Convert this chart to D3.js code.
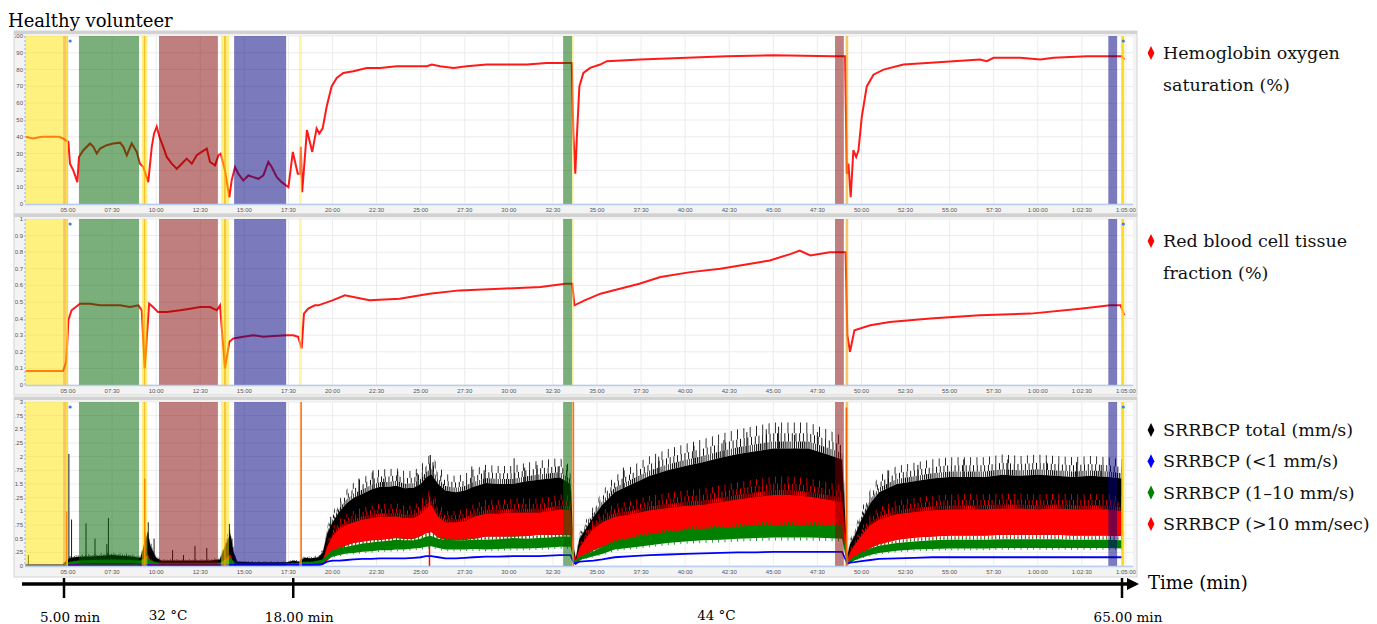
<!DOCTYPE html>
<html><head><meta charset="utf-8">
<script src="https://cdn.jsdelivr.net/npm/d3@7"></script>
<style>
body{margin:0;background:#fff;}
svg{display:block;}
</style></head><body>
<div class="chart"></div>
<script>
// ---- values (time in minutes) ----
const timeTicks = [5, 7.5, 10, 12.5, 15, 17.5, 20, 22.5, 25, 27.5, 30, 32.5, 35, 37.5, 40, 42.5, 45, 47.5, 50, 52.5, 55, 57.5, 60, 62.5, 65];
const timeTickLabels = ["05:00","07:30","10:00","12:30","15:00","17:30","20:00","22:30","25:00","27:30","30:00","32:30","35:00","37:30","40:00","42:30","45:00","47:30","50:00","52:30","55:00","57:30","1:00:00","1:02:30","1:05:00"];
const so2Ticks = [0, 10, 20, 30, 40, 50, 60, 70, 80, 90, 100];
const fracTicks = [0, 0.1, 0.2, 0.3, 0.4, 0.5, 0.6, 0.7, 0.8, 0.9, 1];
const srrTicks = [0, 0.25, 0.5, 0.75, 1, 1.25, 1.5, 1.75, 2, 2.25, 2.5, 2.75, 3];

// protocol phases shown as shaded bands
const bandStart = [2.56, 4.72, 4.9, 5.62, 9.18, 9.3, 10.16, 13.68, 13.85, 14.42, 18.1, 33.08, 33.59, 48.5, 49.1, 64.0, 64.73];
const bandEnd   = [4.72, 4.9, 5.0, 9.03, 9.5, 9.38, 13.5, 14.13, 13.95, 17.37, 18.27, 33.59, 33.7, 49.0, 49.25, 64.5, 64.9];
const bandKind  = ["yellow","amber","gold","green","yellow","amber","brown","yellow","amber","blue","pale","green","pale","brown","amber","blue","gold"];
const eventDots = [5.12, 64.85];

// hemoglobin oxygen saturation (%)
const so2Time = [2.6, 3.0, 3.5, 4.0, 4.5, 4.72, 4.85, 5.02, 5.11, 5.3, 5.53, 5.62, 5.87, 6.25, 6.44, 6.63, 6.82, 7.19, 7.57, 7.95,
  8.14, 8.33, 8.61, 8.9, 9.08, 9.27, 9.55, 9.75, 9.88, 10.03, 10.18, 10.4, 10.6, 10.88, 11.17, 11.45, 11.73, 12.02, 12.3, 12.58,
  12.87, 13.05, 13.34, 13.53, 13.66, 13.9, 14.15, 14.28, 14.47, 14.66, 14.94, 15.23, 15.51, 15.8, 16.08, 16.36, 16.55, 16.84, 17.12, 17.37,
  17.5, 17.75, 18.03, 18.16, 18.2, 18.28, 18.55, 18.85, 19.1, 19.25, 19.44, 19.67, 19.95, 20.24, 20.61, 21.18, 21.94, 22.7, 23.64, 24.59,
  25.35, 25.63, 26.1, 26.86, 27.61, 28.75, 29.88, 31.02, 32.15, 33.0, 33.57, 33.66, 33.77, 33.86, 34.0, 34.23, 34.61, 35.18, 35.56, 37.45,
  40.09, 42.36, 45.0, 48.4, 49.07, 49.17, 49.26, 49.39, 49.54, 49.7, 49.83, 50.02, 50.3, 50.68, 51.25, 52.38, 53.71, 55.22, 56.73, 57.11,
  57.49, 59.0, 60.14, 60.9, 62.79, 63.93, 64.78, 64.9];
const so2Value = [40, 39, 40, 40, 40, 39, 38, 37, 24, 20, 13, 28, 32, 36, 34, 30, 33, 35, 36, 36.5,
  34, 29, 36, 31, 24, 22, 13, 34, 42, 46, 40, 34, 28, 24, 21, 24, 27, 24, 29, 31,
  33, 25, 23, 29, 30, 20, 4, 14, 22, 18, 14, 17, 16, 15, 17, 25, 22, 16, 13, 11,
  10, 31, 18, 18, 34, 7, 44, 31, 45, 42, 45, 58, 70, 75, 78, 79, 81, 81, 82, 82,
  82, 83, 82, 81, 82, 83, 83, 83, 84, 84, 84, 42, 18, 40, 70, 78, 81, 83, 85, 86,
  87, 88, 88.5, 88, 88, 18, 24, 4, 32, 28, 32, 52, 70, 77, 80, 83, 84, 85, 86, 85,
  87, 87, 86, 87, 88, 88, 88, 86];

// red blood cell tissue fraction
const rbcTime = [2.6, 4.72, 4.9, 5.02, 5.2, 5.68, 6.25, 6.82, 7.38, 7.95, 8.52, 8.99, 9.18, 9.35, 9.6, 9.82, 10.1, 10.6, 11.36, 11.93,
  12.49, 13.06, 13.44, 13.62, 13.9, 14.15, 14.38, 14.94, 15.51, 16.08, 16.65, 17.4, 17.77, 18.05, 18.25, 18.38, 18.62, 19.0, 19.19, 20.0,
  20.7, 22.1, 23.8, 25.5, 27.2, 29.5, 31.8, 33.2, 33.6, 33.72, 34.3, 35.2, 36.3, 37.4, 38.6, 40.3, 42.0, 43.7, 44.8, 46.0,
  46.5, 47.1, 48.2, 49.1, 49.2, 49.35, 49.6, 50.5, 51.6, 53.9, 56.7, 59.6, 62.4, 64.1, 64.7, 64.9];
const rbcValue = [0.085, 0.085, 0.14, 0.39, 0.45, 0.49, 0.49, 0.48, 0.48, 0.48, 0.47, 0.48, 0.45, 0.1, 0.49, 0.47, 0.44, 0.44, 0.45, 0.46,
  0.47, 0.47, 0.45, 0.48, 0.1, 0.26, 0.28, 0.29, 0.3, 0.29, 0.295, 0.3, 0.3, 0.29, 0.22, 0.43, 0.46, 0.48, 0.48, 0.51,
  0.54, 0.51, 0.52, 0.55, 0.57, 0.58, 0.59, 0.61, 0.61, 0.48, 0.51, 0.55, 0.58, 0.61, 0.65, 0.68, 0.7, 0.73, 0.75, 0.79,
  0.81, 0.78, 0.8, 0.8, 0.3, 0.2, 0.33, 0.36, 0.38, 0.4, 0.42, 0.43, 0.46, 0.48, 0.48, 0.42];

// SRRBCP (mm/s): band envelopes per speed class
const srrTime = [2.6, 4.7, 5.1, 5.6, 6.5, 7.5, 8.5, 9.1, 9.5, 9.7,
  10.0, 10.3, 11.0, 12.0, 13.0, 13.6, 14.2, 14.4, 14.6, 15.5,
  16.5, 17.4, 17.8, 18.1, 18.4, 18.8, 19.2, 19.45, 19.7, 20.0,
  20.4, 20.8, 21.2, 21.7, 22.2, 22.7, 23.2, 23.6, 24.1, 24.6,
  25.0, 25.3, 25.6, 26.0, 26.4, 27.0, 27.5, 28.0, 28.7, 29.4,
  30.2, 31.0, 31.7, 32.3, 32.9, 33.5, 33.7, 33.8, 34.0, 34.4,
  34.8, 35.3, 36, 37, 38, 39, 40, 41, 42, 43,
  44, 45, 46, 47, 48, 48.9, 49.2, 49.35, 49.6, 50.0,
  50.5, 51, 52, 53, 54, 55, 56, 57, 58, 59,
  60, 61, 62, 63, 64, 64.8];
const totalHi = [0.03, 0.03, 0.15, 0.17, 0.18, 0.2, 0.18, 0.15, 0.6, 0.35,
  0.15, 0.1, 0.1, 0.1, 0.1, 0.12, 0.6, 0.25, 0.08, 0.07,
  0.07, 0.07, 0.1, 0.08, 0.15, 0.14, 0.16, 0.25, 0.6, 0.8,
  1.0, 1.15, 1.25, 1.32, 1.4, 1.45, 1.45, 1.47, 1.42, 1.43,
  1.5, 1.62, 1.68, 1.5, 1.38, 1.35, 1.38, 1.45, 1.52, 1.5,
  1.5, 1.55, 1.58, 1.6, 1.62, 1.5, 0.3, 0.15, 0.5, 0.7,
  0.9, 1.12, 1.35, 1.5, 1.65, 1.75, 1.83, 1.9, 1.98, 2.05,
  2.1, 2.15, 2.15, 2.15, 2.05, 1.95, 0.2, 0.4, 0.55, 0.85,
  1.15, 1.35, 1.5, 1.55, 1.6, 1.63, 1.63, 1.63, 1.67, 1.65,
  1.67, 1.65, 1.63, 1.65, 1.63, 1.6];
const fastHi = [0.01, 0.01, 0.03, 0.03, 0.03, 0.03, 0.03, 0.03, 0.2, 0.1,
  0.05, 0.03, 0.03, 0.03, 0.03, 0.03, 0.2, 0.05, 0.02, 0.02,
  0.02, 0.02, 0.03, 0.02, 0.05, 0.05, 0.05, 0.1, 0.35, 0.55,
  0.68, 0.76, 0.8, 0.85, 0.88, 0.9, 0.9, 0.91, 0.88, 0.88,
  0.95, 1.05, 1.12, 0.9, 0.8, 0.8, 0.82, 0.9, 0.96, 0.96,
  0.98, 0.98, 0.98, 1.0, 1.04, 1.02, 0.2, 0.1, 0.33, 0.52,
  0.68, 0.8, 0.9, 0.95, 1.02, 1.06, 1.1, 1.12, 1.17, 1.22,
  1.26, 1.3, 1.3, 1.27, 1.22, 1.17, 0.1, 0.25, 0.38, 0.56,
  0.75, 0.85, 0.95, 0.99, 1.02, 1.04, 1.04, 1.04, 1.05, 1.05,
  1.04, 1.05, 1.04, 1.04, 1.04, 1.0];
const fastLo = [0, 0, 0, 0, 0, 0, 0, 0, 0, 0,
  0, 0, 0, 0, 0, 0, 0, 0, 0, 0,
  0, 0, 0, 0, 0, 0, 0, 0.02, 0.1, 0.2,
  0.3, 0.38, 0.42, 0.45, 0.47, 0.48, 0.5, 0.51, 0.5, 0.5,
  0.55, 0.6, 0.62, 0.52, 0.48, 0.47, 0.48, 0.5, 0.54, 0.54,
  0.54, 0.55, 0.57, 0.57, 0.57, 0.57, 0.05, 0.02, 0.1, 0.2,
  0.29, 0.35, 0.42, 0.47, 0.5, 0.52, 0.55, 0.57, 0.6, 0.62,
  0.64, 0.66, 0.66, 0.66, 0.65, 0.64, 0.02, 0.05, 0.12, 0.22,
  0.33, 0.4, 0.48, 0.52, 0.54, 0.56, 0.56, 0.56, 0.57, 0.57,
  0.57, 0.57, 0.56, 0.56, 0.56, 0.55];
const midHi = [0.02, 0.02, 0.08, 0.1, 0.11, 0.12, 0.11, 0.1, 0.15, 0.1,
  0.07, 0.06, 0.06, 0.06, 0.06, 0.06, 0.15, 0.08, 0.05, 0.05,
  0.05, 0.05, 0.06, 0.05, 0.08, 0.08, 0.1, 0.12, 0.2, 0.29,
  0.33, 0.35, 0.38, 0.41, 0.43, 0.45, 0.46, 0.48, 0.47, 0.47,
  0.5, 0.54, 0.55, 0.5, 0.48, 0.47, 0.47, 0.48, 0.48, 0.49,
  0.51, 0.5, 0.51, 0.52, 0.54, 0.53, 0.12, 0.1, 0.17, 0.22,
  0.27, 0.35, 0.45, 0.52, 0.58, 0.62, 0.66, 0.68, 0.7, 0.72,
  0.74, 0.75, 0.75, 0.75, 0.74, 0.73, 0.08, 0.12, 0.18, 0.25,
  0.32, 0.37, 0.42, 0.45, 0.47, 0.48, 0.48, 0.48, 0.49, 0.49,
  0.49, 0.49, 0.48, 0.48, 0.48, 0.47];
const midLo = [0.005, 0.005, 0.03, 0.04, 0.05, 0.05, 0.05, 0.04, 0.05, 0.04,
  0.03, 0.03, 0.03, 0.03, 0.03, 0.03, 0.05, 0.03, 0.02, 0.02,
  0.02, 0.02, 0.03, 0.02, 0.03, 0.03, 0.04, 0.05, 0.12, 0.17,
  0.2, 0.23, 0.24, 0.26, 0.27, 0.29, 0.29, 0.3, 0.3, 0.32,
  0.33, 0.35, 0.36, 0.33, 0.3, 0.3, 0.3, 0.31, 0.3, 0.31,
  0.32, 0.32, 0.33, 0.34, 0.35, 0.35, 0.05, 0.05, 0.11, 0.14,
  0.18, 0.22, 0.3, 0.34, 0.38, 0.42, 0.45, 0.47, 0.48, 0.5,
  0.51, 0.52, 0.52, 0.52, 0.51, 0.5, 0.04, 0.06, 0.1, 0.15,
  0.2, 0.24, 0.28, 0.3, 0.31, 0.32, 0.32, 0.32, 0.33, 0.33,
  0.33, 0.33, 0.33, 0.33, 0.33, 0.32];
const slowValue = [0.01, 0.01, 0.01, 0.01, 0.01, 0.01, 0.01, 0.01, 0.02, 0.01,
  0.01, 0.01, 0.01, 0.01, 0.01, 0.01, 0.02, 0.02, 0.03, 0.03,
  0.03, 0.03, 0.03, 0.02, 0.02, 0.02, 0.03, 0.04, 0.08, 0.1,
  0.1, 0.11, 0.12, 0.13, 0.13, 0.14, 0.14, 0.14, 0.14, 0.15,
  0.16, 0.18, 0.18, 0.16, 0.14, 0.14, 0.15, 0.16, 0.17, 0.17,
  0.18, 0.18, 0.18, 0.19, 0.2, 0.2, 0.05, 0.05, 0.08, 0.09,
  0.1, 0.12, 0.16, 0.18, 0.2, 0.21, 0.22, 0.23, 0.24, 0.25,
  0.25, 0.26, 0.26, 0.26, 0.26, 0.26, 0.05, 0.06, 0.07, 0.09,
  0.11, 0.13, 0.14, 0.15, 0.16, 0.16, 0.16, 0.16, 0.16, 0.16,
  0.16, 0.16, 0.16, 0.16, 0.16, 0.16];
// isolated peaks visible above the bands
const totalSpikeTime = [2.75, 5.05, 5.2, 6.02, 6.53, 7.2, 7.29, 9.55, 9.88, 10.93, 11.55, 12.2, 12.87, 14.15, 14.3, 19.9,
  21.5, 22.3, 22.9, 23.7, 24.8, 25.55, 25.7, 27.9, 28.6, 30.3, 30.9, 31.6, 32.8, 33.3,
  36.5, 38.5, 40.5, 42.2, 43.5, 44.6, 45.3, 46.2, 47.5, 51.5, 53.2, 55.8, 58.3, 60.5, 62.2, 63.6];
const totalSpikeValue = [0.2, 2.05, 0.85, 0.78, 0.5, 0.4, 0.88, 0.8, 0.5, 0.29, 0.2, 0.37, 0.33, 0.77, 0.5, 0.9,
  1.6, 1.75, 1.6, 1.73, 1.7, 2.03, 1.9, 1.82, 1.75, 1.97, 1.8, 1.85, 1.82, 1.85,
  1.8, 2.0, 2.2, 2.3, 2.45, 2.5, 2.55, 2.4, 2.45, 1.75, 1.85, 1.95, 1.95, 1.9, 1.9, 1.85];
const fastSpikeTime = [4.93, 9.35, 18.22, 25.5, 33.66, 49.15];
const fastSpikeValue = [1.0, 1.6, 3.0, 1.27, 3.0, 2.9];

const legendTop = ["Hemoglobin oxygen", "saturation (%)"];
const legendMid = ["Red blood cell tissue", "fraction (%)"];
const legendBottom = ["SRRBCP total (mm/s)", "SRRBCP (<1 mm/s)", "SRRBCP (1\u201310 mm/s)", "SRRBCP (>10 mm/sec)"];
const markTimes = [5, 18, 65];
const markLabels = ["5.00 min", "18.00 min", "65.00 min"];
const tempTimes = [10.9, 42.0];
const tempLabels = ["32 \u00b0C", "44 \u00b0C"];

// ---- drawing ----
const lens = [srrTime, totalHi, fastHi, fastLo, midHi, midLo, slowValue].map(a => a.length);
if (new Set(lens).size > 1) throw new Error("srr lengths " + lens);
if (so2Time.length !== so2Value.length) throw new Error("so2 " + so2Time.length + " " + so2Value.length);
if (rbcTime.length !== rbcValue.length) throw new Error("rbc " + rbcTime.length + " " + rbcValue.length);

const serif = "'DejaVu Serif', serif";
const bandColor = {yellow: "rgba(255,228,0,0.5)", amber: "rgba(245,160,0,0.6)", gold: "rgba(255,215,0,0.85)",
  green: "rgba(0,100,0,0.52)", brown: "rgba(128,0,0,0.5)", blue: "rgba(0,0,128,0.52)", pale: "rgba(255,235,60,0.45)"};

const svg = d3.select(".chart").append("svg").attr("width", 1377).attr("height", 624);
const defs = svg.append("defs");

// vertical hatch patterns give the noisy fringe of the dense traces
function hatch(id, color, period, w) {
  const pat = defs.append("pattern").attr("id", id).attr("patternUnits", "userSpaceOnUse")
    .attr("width", period).attr("height", 40);
  pat.append("rect").attr("width", w).attr("height", 40).attr("fill", color);
}
[["k", "#000"], ["r", "#ff0000"], ["g", "#008000"]].forEach(([n, c]) => {
  hatch(n + "1", c, 2.1, 1.0);
  hatch(n + "2", c, 3.7, 0.9);
  hatch(n + "3", c, 6.3, 0.8);
});

const x = d3.scaleLinear().domain([2.56, 65.4]).range([25, 1133]);
const bisect = d3.bisector(d => d).left;
// value of an envelope at time t (linear between read points)
function at(arr, t) {
  const k = Math.max(1, Math.min(srrTime.length - 1, bisect(srrTime, t)));
  const f = (t - srrTime[k - 1]) / (srrTime[k] - srrTime[k - 1]);
  return arr[k - 1] + (arr[k] - arr[k - 1]) * Math.max(0, Math.min(1, f));
}

const panels = [
  {top: 36, bottom: 204, fTop: 31, fBottom: 214, max: 100, ticks: so2Ticks},
  {top: 219, bottom: 385, fTop: 214, fBottom: 395, max: 1, ticks: fracTicks},
  {top: 402, bottom: 566, fTop: 397, fBottom: 577, max: 3, ticks: srrTicks}
];

svg.append("text").attr("x", 8).attr("y", 27).attr("font-family", serif).attr("font-size", 18)
  .text("Healthy volunteer");

panels.forEach((p, i) => {
  const y = d3.scaleLinear().domain([0, p.max]).range([p.bottom, p.top]);
  const g = svg.append("g");
  const cid = "clip" + i, lid = "lclip" + i;
  defs.append("clipPath").attr("id", cid).append("rect")
    .attr("x", 25).attr("y", p.top).attr("width", 1108).attr("height", p.bottom - p.top);
  defs.append("clipPath").attr("id", lid).append("rect")
    .attr("x", 15).attr("y", p.fTop).attr("width", 10).attr("height", p.fBottom - p.fTop);

  // frame
  g.append("rect").attr("x", 14).attr("y", p.fTop).attr("width", 1123).attr("height", p.fBottom - p.fTop)
    .attr("fill", "#f3f3f3").attr("stroke", "#d4d4d4");
  g.append("rect").attr("x", 14).attr("y", p.fTop).attr("width", 1123).attr("height", 3).attr("fill", "#d2d2d2");
  g.append("rect").attr("x", 25).attr("y", p.top).attr("width", 1108).attr("height", p.bottom - p.top).attr("fill", "#fff");

  // grid
  g.append("g").selectAll("line").data(p.ticks).join("line")
    .attr("x1", 25).attr("x2", 1133).attr("y1", d => y(d)).attr("y2", d => y(d))
    .attr("stroke", "#ececec");
  g.append("g").selectAll("line").data(timeTicks).join("line")
    .attr("x1", d => x(d)).attr("x2", d => x(d)).attr("y1", p.top).attr("y2", p.bottom)
    .attr("stroke", "#ececec");

  const plot = g.append("g").attr("clip-path", `url(#${cid})`);

  if (i < 2) {
    const pts = i === 0 ? d3.zip(so2Time, so2Value) : d3.zip(rbcTime, rbcValue);
    plot.append("path").datum(pts).attr("d", d3.line().x(d => x(d[0])).y(d => y(d[1])))
      .attr("fill", "none").attr("stroke", "#ff1a1a").attr("stroke-width", 2);
  } else {
    const rows = srrTime.map((t, k) => ({t, tot: totalHi[k], fh: fastHi[k], fl: fastLo[k], mh: midHi[k], ml: midLo[k], s: slowValue[k]}));
    const band = (lo, hi, fill) => plot.append("path").datum(rows)
      .attr("d", d3.area().x(d => x(d.t)).y0(d => y(lo(d))).y1(d => y(hi(d)))).attr("fill", fill);
    // total: solid band, then progressively sparser fringe above it
    band(d => d.fl, d => d.tot, "#000");
    band(d => d.tot, d => d.tot * 1.06, "url(#k1)");
    band(d => d.tot * 1.06, d => d.tot * 1.13, "url(#k2)");
    band(d => d.tot * 1.13, d => d.tot * 1.22, "url(#k3)");
    plot.append("g").selectAll("line").data(d3.zip(totalSpikeTime, totalSpikeValue)).join("line")
      .attr("x1", d => x(d[0])).attr("x2", d => x(d[0]))
      .attr("y1", d => y(Math.max(at(fastHi, d[0]), at(totalHi, d[0]) * 0.9)))
      .attr("y2", d => y(d[1]))
      .attr("stroke", "#000").attr("stroke-width", 0.9);
    // >10 mm/s
    band(d => d.fl, d => d.fh, "#ff0000");
    band(d => d.fh, d => d.fh * 1.07, "url(#r1)");
    band(d => d.fh * 1.07, d => d.fh * 1.16, "url(#r2)");
    band(d => d.fh * 1.16, d => d.fh * 1.26, "url(#r3)");
    band(d => d.fl * 0.9, d => d.fl, "url(#r2)");
    plot.append("g").selectAll("line").data(d3.zip(fastSpikeTime, fastSpikeValue)).join("line")
      .attr("x1", d => x(d[0])).attr("x2", d => x(d[0])).attr("y1", y(0)).attr("y2", d => y(d[1]))
      .attr("stroke", "#ff0000").attr("stroke-width", 1.5);
    // 1-10 mm/s
    band(d => d.ml, d => d.mh, "#008000");
    band(d => d.mh, d => d.mh * 1.08, "url(#g2)");
    band(d => d.ml * 0.9, d => d.ml, "url(#g3)");
    // <1 mm/s
    plot.append("path").datum(rows).attr("d", d3.line().x(d => x(d.t)).y(d => y(d.s)))
      .attr("fill", "none").attr("stroke", "#0000ff").attr("stroke-width", 1.8);
  }

  // phase bands over the traces
  plot.append("g").selectAll("rect").data(d3.range(bandStart.length)).join("rect")
    .attr("x", k => x(bandStart[k])).attr("width", k => x(bandEnd[k]) - x(bandStart[k]))
    .attr("y", p.top).attr("height", p.bottom - p.top)
    .attr("fill", k => bandColor[bandKind[k]]);

  g.append("g").selectAll("circle").data(eventDots).join("circle")
    .attr("cx", d => x(d)).attr("cy", p.top + 5).attr("r", 1.6).attr("fill", "#3d7fe0");

  // axes lines
  g.append("line").attr("x1", 25).attr("x2", 25).attr("y1", p.top).attr("y2", p.bottom)
    .attr("stroke", "#8fb2ea").attr("stroke-dasharray", "2,2");
  g.append("line").attr("x1", 25).attr("x2", 1133).attr("y1", p.bottom + 0.5).attr("y2", p.bottom + 0.5)
    .attr("stroke", "#b8cdf0").attr("stroke-width", 1.5);

  // tick labels
  g.append("g").attr("clip-path", `url(#${lid})`).selectAll("text").data(p.ticks).join("text")
    .attr("x", 23).attr("y", d => y(d) + 2).attr("text-anchor", "end")
    .attr("font-family", "Arial, 'Liberation Sans', sans-serif").attr("font-size", 6).attr("fill", "#555")
    .text(d => String(d));
  g.append("g").selectAll("text").data(timeTicks).join("text")
    .attr("x", d => x(d)).attr("y", p.bottom + 7.5).attr("text-anchor", "middle")
    .attr("font-family", "Arial, 'Liberation Sans', sans-serif").attr("font-size", 6).attr("fill", "#555")
    .text((d, k) => timeTickLabels[k]);
});

// legends
function legend(lines, colors, y0, dy) {
  lines.forEach((s, k) => {
    const yy = y0 + k * dy;
    if (colors[k]) {
      svg.append("path").attr("d", d3.symbol(d3.symbolDiamond, 40)())
        .attr("transform", `translate(1151,${yy}) scale(1,1.2)`).attr("fill", colors[k]);
    }
    svg.append("text").attr("x", 1163).attr("y", yy + 6).attr("font-family", serif).attr("font-size", 17.5)
      .attr("fill", "#111").text(s);
  });
}
legend(legendTop, ["#ff0000", null], 53, 32);
legend(legendMid, ["#ff0000", null], 241, 32);
legend(legendBottom, ["#000", "#0000ff", "#008000", "#ff0000"], 430, 31.3);

// protocol time line
const ax = d3.scaleLinear().domain([5, 65]).range([64, 1122]);
svg.append("line").attr("x1", 22).attr("x2", 1130).attr("y1", 584).attr("y2", 584)
  .attr("stroke", "#000").attr("stroke-width", 3.5);
svg.append("path").attr("d", "M1127,578 L1139,584 L1127,590 Z").attr("fill", "#000");
svg.append("g").selectAll("line").data(markTimes).join("line")
  .attr("x1", d => ax(d)).attr("x2", d => ax(d)).attr("y1", 578).attr("y2", 598)
  .attr("stroke", "#000").attr("stroke-width", 2.5);
svg.append("g").selectAll("text").data(markTimes).join("text")
  .attr("x", d => ax(d) + 6).attr("y", 622).attr("text-anchor", "middle")
  .attr("font-family", serif).attr("font-size", 13.5).text((d, k) => markLabels[k]);
svg.append("g").selectAll("text").data(tempTimes).join("text")
  .attr("x", d => ax(d)).attr("y", 620).attr("text-anchor", "middle")
  .attr("font-family", serif).attr("font-size", 13.5).text((d, k) => tempLabels[k]);
svg.append("text").attr("x", 1148).attr("y", 589).attr("font-family", serif).attr("font-size", 18)
  .text("Time (min)");
</script>
</body></html>
